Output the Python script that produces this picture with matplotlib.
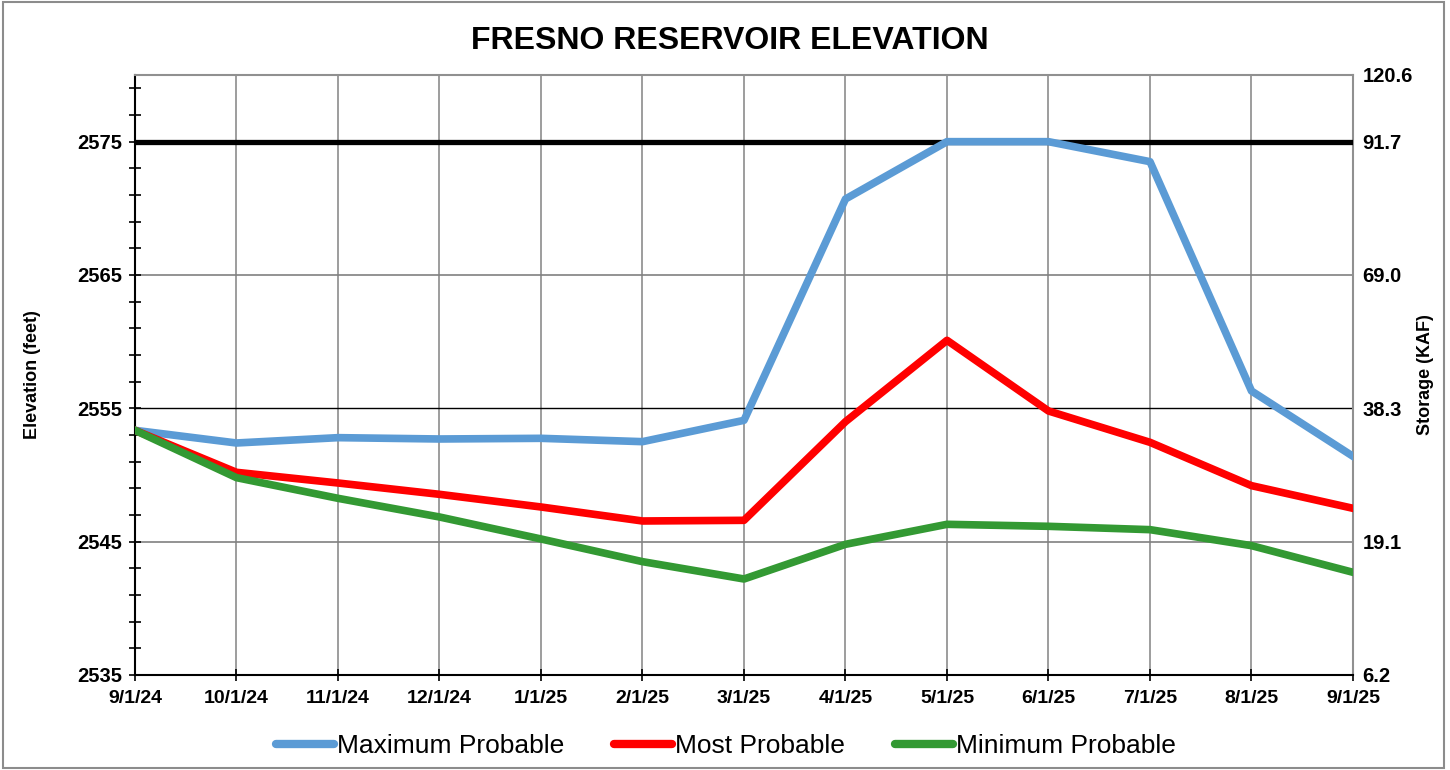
import numpy as np
import matplotlib.pyplot as plt
from matplotlib.patches import Rectangle

plt.rcParams['font.family'] = ['Liberation Sans', 'DejaVu Sans']

dates = ["9/1/24", "10/1/24", "11/1/24", "12/1/24", "1/1/25", "2/1/25", "3/1/25",
         "4/1/25", "5/1/25", "6/1/25", "7/1/25", "8/1/25", "9/1/25"]
max_prob = [2553.35, 2552.4, 2552.8, 2552.7, 2552.75, 2552.5, 2554.1,
            2570.7, 2575.0, 2575.0, 2573.5, 2556.3, 2551.4]
most_prob = [2553.35, 2550.2, 2549.4, 2548.55, 2547.6, 2546.55, 2546.6,
             2554.0, 2560.1, 2554.8, 2552.45, 2549.2, 2547.5]
min_prob = [2553.35, 2549.8, 2548.25, 2546.85, 2545.2, 2543.5, 2542.2,
            2544.8, 2546.3, 2546.15, 2545.9, 2544.7, 2542.7]
top_of_conservation = 2575

elev_ticks = [2535, 2545, 2555, 2565, 2575]
storage_ticks = [2535, 2545, 2555, 2565, 2575, 2580]
storage_labels = ["6.2", "19.1", "38.3", "69.0", "91.7", "120.6"]

fig = plt.figure(figsize=(14.5, 7.7), dpi=100)
ax = fig.add_axes([0.0931, 0.1234, 0.84, 0.7792])
x = np.arange(len(dates))

# grid
for xi in x[1:-1]:
    ax.axvline(xi, color="#8c8c8c", lw=1.2, zorder=1)
for yv in [2545, 2565]:
    ax.axhline(yv, color="#808080", lw=1.2, zorder=1)
ax.axhline(2555, color="black", lw=1.0, zorder=1)

ax.axhline(top_of_conservation, color="black", lw=3.8, zorder=3)

ax.plot(x, max_prob, color="#5b9bd5", lw=5.5, label="Maximum Probable", zorder=4)
ax.plot(x, most_prob, color="#ff0000", lw=5.5, label="Most Probable", zorder=4)
ax.plot(x, min_prob, color="#339933", lw=5.5, label="Minimum Probable", zorder=4)

ax.set_xlim(0, len(dates) - 1)
ax.set_ylim(2535, 2580)
ax.set_xticks(x)
ax.set_xticklabels(dates, fontsize=14, fontweight="bold")
ax.set_yticks(elev_ticks)
ax.set_yticklabels([str(v) for v in elev_ticks], fontsize=14.5, fontweight="bold")
ax.set_yticks(np.arange(2535, 2581, 2), minor=True)
ax.tick_params(axis="y", which="both", direction="inout", length=8, width=1.2, pad=5)
ax.tick_params(axis="x", direction="inout", length=8, width=1.2, pad=7)
ax.set_ylabel("Elevation (feet)", fontsize=13, fontweight="bold", labelpad=26)

for side in ["top", "right"]:
    ax.spines[side].set_color("#909090")
    ax.spines[side].set_linewidth(1.5)
for side in ["left", "bottom"]:
    ax.spines[side].set_color("black")
    ax.spines[side].set_linewidth(1.5)

ax2 = ax.twinx()
ax2.set_ylim(ax.get_ylim())
ax2.set_yticks(storage_ticks)
ax2.set_yticklabels(storage_labels, fontsize=14.5, fontweight="bold")
ax2.tick_params(axis="y", length=0, pad=7)
ax2.set_ylabel("Storage (KAF)", fontsize=13, fontweight="bold", labelpad=3)
for s in ax2.spines.values():
    s.set_visible(False)

fig.suptitle("FRESNO RESERVOIR ELEVATION", fontsize=23, fontweight="bold", x=0.503, y=0.966)

leg = ax.legend(loc="center", bbox_to_anchor=(0.485, -0.118), ncol=3, frameon=False,
                fontsize=19, handlelength=2.2, handletextpad=0.1, columnspacing=1.9)
for line in leg.get_lines():
    line.set_solid_capstyle("round")
    line.set_linewidth(6)

fig.patches.append(Rectangle((0.002, 0.003), 0.994, 0.994, transform=fig.transFigure,
                             fill=False, edgecolor="#8c8c8c", lw=1.5))

fig.savefig("out.png", dpi=100)
